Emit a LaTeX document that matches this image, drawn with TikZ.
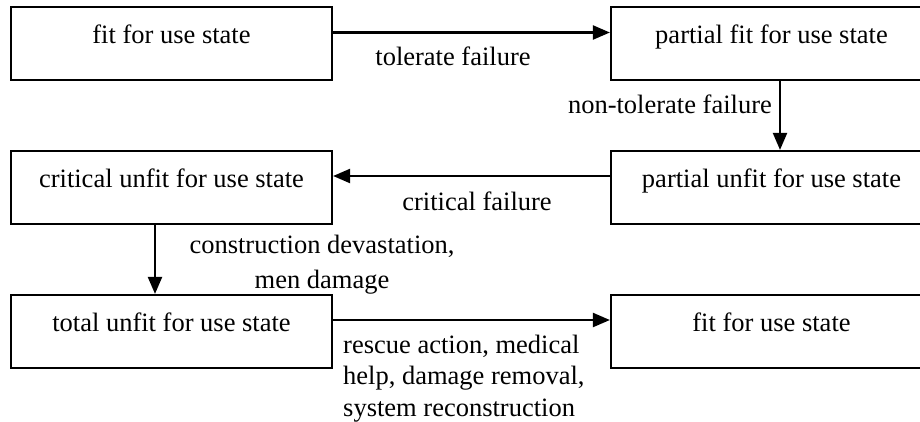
\documentclass[tikz,border=0pt]{standalone}
\usepackage{fontspec}
\setmainfont{Liberation Serif}
\usetikzlibrary{arrows.meta}
\tikzset{
  statebox/.style={draw, line width=2.2pt, minimum width=321pt, minimum height=73pt,
    inner sep=0pt, text height=18pt, text depth=18pt, font=\fontsize{26.5}{33}\selectfont},
  lbl/.style={inner sep=0pt, font=\fontsize{26.5}{33}\selectfont},
  arr/.style={line width=2.2pt, -{Triangle[length=17pt,width=14pt]}},
}
\begin{document}
\begin{tikzpicture}[x=1pt,y=-1pt]
\clip (0,0) rectangle (920,421);
\fill[white] (0,0) rectangle (920,421);
\node[statebox] (A) at (171.5,43.5) {fit for use state};
\node[statebox] (B) at (771.5,43.5) {partial fit for use state};
\node[statebox] (C) at (771.5,187.5) {partial unfit for use state};
\node[statebox] (D) at (171.5,187.5) {critical unfit for use state};
\node[statebox] (E) at (171.5,331.5) {total unfit for use state};
\node[statebox] (F) at (771.5,331.5) {fit for use state};
\draw[arr] ([yshift=11pt]A.east) -- ([yshift=11pt]B.west);
\draw[arr] ([xshift=8.5pt]B.south) -- ([xshift=8.5pt]C.north);
\draw[arr] ([yshift=11.5pt]C.west) -- ([yshift=11.5pt]D.east);
\draw[arr] ([xshift=-16.5pt]D.south) -- ([xshift=-16.5pt]E.north);
\draw[arr] ([yshift=11.5pt]E.east) -- ([yshift=11.5pt]F.west);
\node[lbl, anchor=base] (l1) at (453,65) {tolerate failure};
\node[lbl, anchor=base east] (l2) at (772,113) {non-tolerate failure};
\node[lbl, anchor=base] (l3) at (477,210) {critical failure};
\node[lbl, anchor=base, align=center, font=\fontsize{26.5}{35}\selectfont] (l4) at (322,288) {construction devastation,\\men damage};
\node[lbl, anchor=base west, align=left, font=\fontsize{26.5}{31.5}\selectfont] (l5) at (343,416) {rescue action, medical\\help, damage removal,\\system reconstruction};
\end{tikzpicture}
\end{document}
